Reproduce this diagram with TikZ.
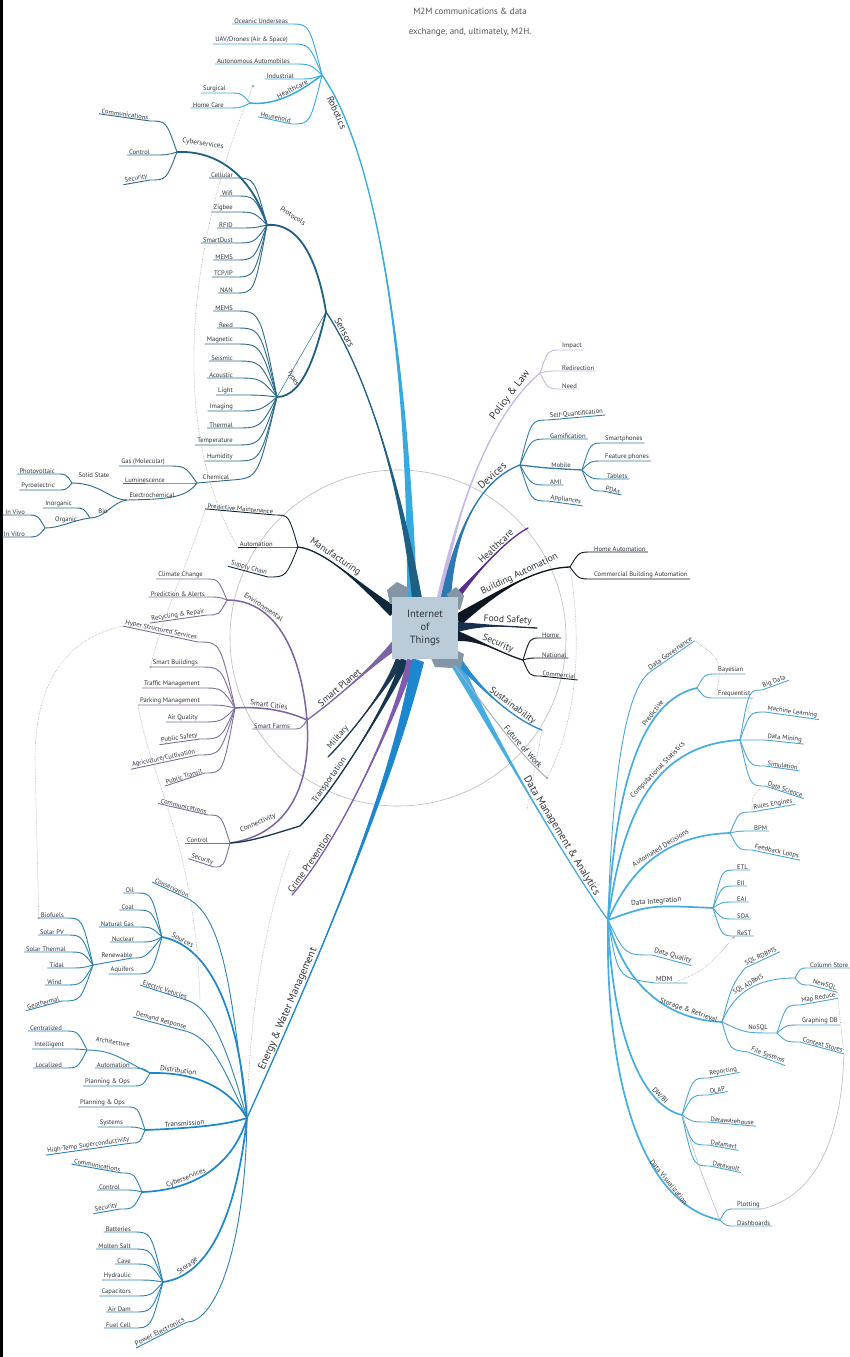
\documentclass[tikz,border=0pt]{standalone}
\usepackage{fontspec}
\setmainfont{PT Sans}
\usetikzlibrary{calc}
\definecolor{txt}{HTML}{2E3338}
\definecolor{robc}{HTML}{36A9E1}
\definecolor{senc}{HTML}{1F5F82}
\definecolor{senl}{HTML}{2B6B8C}
\definecolor{manc}{HTML}{10263A}
\definecolor{envc}{HTML}{7C63A6}
\definecolor{envl}{HTML}{7E6E9C}
\definecolor{milc}{HTML}{1B3A52}
\definecolor{trac}{HTML}{163650}
\definecolor{crmc}{HTML}{7D5CB0}
\definecolor{enec}{HTML}{1C87CE}
\definecolor{enel}{HTML}{2A82B4}
\definecolor{datc}{HTML}{45ADE2}
\definecolor{datl}{HTML}{4AA6D4}
\definecolor{polc}{HTML}{C7B8E8}
\definecolor{devc}{HTML}{2C79B2}
\definecolor{devl}{HTML}{2F7FA8}
\definecolor{hltc}{HTML}{5A2C8C}
\definecolor{bldc}{HTML}{0D1620}
\definecolor{fooc}{HTML}{16304E}
\definecolor{secc}{HTML}{111D2D}
\definecolor{susc}{HTML}{2B8CCD}
\definecolor{futc}{HTML}{A2AEB8}
\definecolor{ring}{HTML}{B4BCC4}
\definecolor{boxc}{HTML}{B9CCD8}
\definecolor{tabc}{HTML}{8496A6}

\tikzset{
 leaf/.style={font=\fontsize{6.6}{8}\selectfont,text=txt,inner xsep=2pt,inner ysep=0.5pt},
 blab/.style={font=\fontsize{7.2}{9}\selectfont,text=txt,inner sep=1pt},
 mlab/.style={font=\fontsize{9.5}{11}\selectfont,text=txt,inner sep=1.2pt},
 mid/.style={font=\fontsize{8.5}{10}\selectfont},
 big/.style={font=\fontsize{10.5}{12}\selectfont},
 rl/.style={draw=robc,line width=0.9pt},
 rb/.style={draw=robc,line width=1.5pt},
 sl/.style={draw=senl,line width=0.9pt},
 sb/.style={draw=senc,line width=1.8pt},
 ml/.style={draw=manc,line width=0.9pt},
 el/.style={draw=envl,line width=0.9pt},
 eb/.style={draw=envc,line width=1.5pt},
 nl/.style={draw=enel,line width=0.9pt},
 nb/.style={draw=enec,line width=1.7pt},
 dl/.style={draw=datl,line width=0.9pt},
 db/.style={draw=datc,line width=1.7pt},
 pl/.style={draw=polc,line width=0.9pt},
 vl/.style={draw=devl,line width=0.9pt},
 bl/.style={draw=bldc,line width=0.9pt},
 xref/.style={draw=gray!65,densely dotted,line width=0.6pt},
 faint/.style={draw=ring,line width=0.6pt},
 onpath/.style={sloped,above,pos=#1},
}

% leaf to the left of its hub: text sits on the underline that ends at the curve
\newcommand\lfL[6][0]{%
  \node[leaf,rotate=#1,anchor=south east] (#4) at #5 {#6};
  \draw[#2] (#3) .. controls ($(#3 |- #4.south east)!0.4!(#4.south east)$) .. (#4.south east) -- (#4.south west);}
% leaf to the right of its hub
\newcommand\lfR[6][0]{%
  \node[leaf,rotate=#1,anchor=south west] (#4) at #5 {#6};
  \draw[#2] (#3) .. controls ($(#3 |- #4.south west)!0.4!(#4.south west)$) .. (#4.south west) -- (#4.south east);}
% tapering main branch with its label:
% [label options]{colour}{start}{half-width}{control 1}{control 2}{end}{label name}{label text}
\newcommand\taper[9][]{%
  \fill[#2] ($#3+#4$) .. controls #5 and #6 .. #7 .. controls #6 and #5 .. ($#3-#4$) -- cycle;
  \draw[#2,line width=1.3pt,line cap=round] #3 .. controls #5 and #6 .. #7
     node[mlab,#1] (#8) {#9};}

\begin{document}
\begin{tikzpicture}[x=1pt,y=-1pt]
\useasboundingbox (0,0) rectangle (850,1357);
\fill[white] (0,0) rectangle (850,1357);
\fill[black] (0,0) rectangle (2.5,1357);

\node[font=\fontsize{9}{20}\selectfont,text=gray!65!black,align=center] (m2m) at (470,22)
  {M2M communications \& data\\exchange, and, ultimately, M2H.};

% ---------- hubs ----------
\coordinate (c) at (425,628);
\coordinate (rob) at (322,75);   \coordinate (rhc) at (250,103);
\coordinate (sen) at (326,312);  \coordinate (pro) at (267,225);
\coordinate (cyb) at (177,152);  \coordinate (typ) at (277,397);
\coordinate (chm) at (197,483);  \coordinate (ecm) at (127,500);
\coordinate (sst) at (72,483);   \coordinate (bio) at (90,518);
\coordinate (org) at (45,528);
\coordinate (man) at (298,547);
\coordinate (spl) at (307,720);  \coordinate (env) at (227,600);
\coordinate (scy) at (235,708);  \coordinate (cnv) at (230,843);
\coordinate (mil) at (328,757);  \coordinate (trn) at (300,826);
\coordinate (crm) at (292,895);
\coordinate (ene) at (247,1118); \coordinate (src) at (162,937);
\coordinate (rnw) at (93,965);   \coordinate (dis) at (150,1073);
\coordinate (arh) at (87,1050);  \coordinate (trm) at (145,1130);
\coordinate (cy2) at (142,1192); \coordinate (sto) at (163,1282);
\coordinate (dmh) at (608,920);  \coordinate (prd) at (697,688);
\coordinate (cst) at (740,740);  \coordinate (aud) at (730,833);
\coordinate (din) at (713,908);  \coordinate (str) at (722,1022);
\coordinate (sqa) at (795,978);  \coordinate (nsq) at (777,1033);
\coordinate (dwb) at (682,1115); \coordinate (dvz) at (720,1220);
\coordinate (pol) at (540,373);  \coordinate (dev) at (520,465);
\coordinate (mob) at (582,470);  \coordinate (hlt) at (528,528);
\coordinate (bld) at (570,567);  \coordinate (foo) at (537,628);
\coordinate (sec) at (523,660);  \coordinate (sus) at (542,730);
\coordinate (fut) at (547,778);

% ---------- ring round the centre ----------
\draw[faint] (398,638) circle[radius=168pt];

% ---------- Robotics ----------
\lfL{rl}{rob}{r1}{(290,24)}{Oceanic Underseas}
\lfL{rl}{rob}{r2}{(290,44)}{UAV/Drones (Air \& Space)}
\lfL{rl}{rob}{r3}{(292,64)}{Autonomous Automobiles}
\lfL{rl}{rob}{r4}{(296,79)}{Industrial}
\draw[rb] (rob) .. controls (300,92) and (275,106) .. (rhc)
   node[blab,onpath=0.4] (rhl) {Healthcare};
\lfL{rl}{rhc}{r5}{(228,93)}{Surgical}
\lfL{rl}{rhc}{r6}{(226,108)}{Home Care}
\lfL[-12]{rl}{rob}{r7}{(292,124)}{Household}

% ---------- Sensors ----------
\draw[sb] (pro) .. controls (300,222) and (318,262) .. (sen);
\node[blab,rotate=-32] (prl) at (293,216) {Protocols};
\draw[sb] (cyb) .. controls (225,150) and (255,185) .. (pro);
\node[blab,rotate=-8] (cyl) at (203,144) {Cyberservices};
\lfL[-8]{sl}{cyb}{c1}{(150,121)}{Communications}
\lfL{sl}{cyb}{c2}{(152,155)}{Control}
\lfL[10]{sl}{cyb}{c3}{(150,180)}{Security}
\lfL{sl}{pro}{p1}{(235,178)}{Cellular}
\lfL{sl}{pro}{p2}{(235,196)}{Wifi}
\lfL{sl}{pro}{p3}{(235,212)}{Zigbee}
\lfL{sl}{pro}{p4}{(235,228)}{RFID}
\lfL{sl}{pro}{p5}{(235,243)}{SmartDust}
\lfL{sl}{pro}{p6}{(235,260)}{MEMS}
\lfL{sl}{pro}{p7}{(235,277)}{TCP/IP}
\lfL{sl}{pro}{p8}{(235,293)}{NAN}
\draw[sb] (typ) .. controls (305,397) and (318,345) .. (sen);
\node[blab,rotate=-62] (tyl) at (293,378) {Types};
\draw[sl,line width=0.5pt] (typ) -- (sen);
\lfL{sl}{typ}{t01}{(235,311)}{MEMS}
\lfL{sl}{typ}{t02}{(235,328)}{Reed}
\lfL{sl}{typ}{t03}{(235,344)}{Magnetic}
\lfL{sl}{typ}{t04}{(235,361)}{Seismic}
\lfL{sl}{typ}{t05}{(235,378)}{Acoustic}
\lfL{sl}{typ}{t06}{(235,395)}{Light}
\lfL{sl}{typ}{t07}{(235,411)}{Imaging}
\lfL{sl}{typ}{t08}{(235,428)}{Thermal}
\lfL{sl}{typ}{t09}{(235,445)}{Temperature}
\lfL{sl}{typ}{t10}{(235,461)}{Humidity}
\draw[sl] (typ) .. controls (258,478) .. (232,480) -- (chm);
\node[leaf,anchor=south] (chl) at (216,480) {Chemical};
\lfL{sl}{chm}{g1}{(167,466)}{Gas (Molecular)}
\lfL{sl}{chm}{g2}{(167,483)}{Luminescence}
\draw[sl] (chm) .. controls (185,499) and (165,499) .. (ecm);
\node[leaf,anchor=south] (ecl) at (152,498) {Electrochemical};
\draw[sl] (ecm) .. controls (110,500) and (100,483) .. (sst);
\node[leaf] (ssl) at (94,475) {Solid State};
\draw[sl] (ecm) .. controls (112,502) and (105,518) .. (bio);
\node[leaf] (bil) at (103,511) {Bio};
\lfL{sl}{sst}{ss1}{(57,474)}{Photovoltaic}
\lfL{sl}{sst}{ss2}{(57,490)}{Pyroelectric}
\lfL{sl}{bio}{b1}{(74,508)}{Inorganic}
\draw[sl] (bio) .. controls (70,521) and (60,528) .. (org);
\node[leaf] (orl) at (66,520) {Organic};
\lfL{sl}{org}{o1}{(27,515)}{In Vivo}
\lfL{sl}{org}{o2}{(27,537)}{In Vitro}

% ---------- Manufacturing ----------
\lfL[-5]{ml}{man}{m1}{(275,515)}{Predictive Maintenance}
\lfL{ml}{man}{m2}{(275,547)}{Automation}
\lfL[-15]{ml}{man}{m3}{(268,577)}{Supply Chain}

% ---------- Smart Planet ----------
\draw[eb] (env) .. controls (280,600) and (302,660) .. (spl)
   node[blab,onpath=0.25] (envl) {Environmental};
\lfL{el}{env}{e1}{(205,579)}{Climate Change}
\lfL{el}{env}{e2}{(207,597)}{Prediction \& Alerts}
\lfL[8]{el}{env}{e3}{(207,615)}{Recycling \& Repair}
\draw[eb] (scy) .. controls (265,706) and (290,712) .. (spl)
   node[blab,onpath=0.4] (scl) {Smart Cities};
\lfL{el}{spl}{sfm}{(292,729)}{Smart Farms}
\lfL[-12]{el}{scy}{h1}{(198,642)}{Hyper Structured Services}
\lfL{el}{scy}{h2}{(200,667)}{Smart Buildings}
\lfL{el}{scy}{h3}{(202,688)}{Traffic Management}
\lfL{el}{scy}{h4}{(202,705)}{Parking Management}
\lfL{el}{scy}{h5}{(200,722)}{Air Quality}
\lfL[8]{el}{scy}{h6}{(200,739)}{Public Safety}
\lfL[12]{el}{scy}{h7}{(198,755)}{Agriculture/Cultivation}
\lfL[18]{el}{scy}{h8}{(205,773)}{Public Transit}
\draw[eb] (spl) .. controls (312,790) and (285,835) .. (cnv);
\draw[trac,line width=1.3pt] (cnv) .. controls (250,842) and (270,835) .. (trn);
\node[blab,rotate=24] (cnvl) at (258,823) {Connectivity};
\lfL[-13]{el}{cnv}{k1}{(208,815)}{Communications}
\lfL{el}{cnv}{k2}{(210,843)}{Control}
\lfL[-18]{el}{cnv}{k3}{(214,867)}{Security}

% ---------- Energy & Water Management ----------
\node[leaf,rotate=-25,anchor=south west] (cons) at (152,882) {Conservation};
\draw[nl] (ene) .. controls (232,1000) and (225,920) .. (cons.south east) -- (cons.south west);
\draw[nb] (src) .. controls (205,945) and (238,1000) .. (ene)
   node[blab,onpath=0.15] (srcl) {Sources};
\lfL{nl}{src}{s1}{(136,893)}{Oil}
\lfL{nl}{src}{s2}{(136,910)}{Coal}
\lfL{nl}{src}{s3}{(136,927)}{Natural Gas}
\lfL{nl}{src}{s4}{(136,942)}{Nuclear}
\draw[nl] (src) .. controls (145,958) .. (132,958) -- (rnw);
\node[leaf,anchor=south] (rnl) at (117,958) {Renewable};
\lfL{nl}{src}{s6}{(136,974)}{Aquifers}
\lfL{nl}{rnw}{w1}{(66,918)}{Biofuels}
\lfL{nl}{rnw}{w2}{(66,935)}{Solar PV}
\lfL{nl}{rnw}{w3}{(68,952)}{Solar Thermal}
\lfL{nl}{rnw}{w4}{(66,968)}{Tidal}
\lfL{nl}{rnw}{w5}{(64,985)}{Wind}
\lfL[15]{nl}{rnw}{w6}{(62,1001)}{Geothermal}
\node[leaf,rotate=-18,anchor=south west] (ev) at (140,985) {Electric Vehicles};
\draw[nl] (ene) .. controls (230,1060) and (215,1010) .. (ev.south east) -- (ev.south west);
\node[leaf,rotate=-15,anchor=south west] (dr) at (133,1017) {Demand Response};
\draw[nl] (ene) .. controls (228,1080) and (215,1040) .. (dr.south east) -- (dr.south west);
\draw[nb] (dis) .. controls (200,1072) and (230,1090) .. (ene)
   node[blab,onpath=0.2] (dil) {Distribution};
\draw[nl] (dis) .. controls (125,1062) and (115,1050) .. (arh);
\node[leaf,rotate=-10] (arl) at (113,1042) {Architecture};
\lfL{nl}{arh}{a1}{(64,1031)}{Centralized}
\lfL{nl}{arh}{a2}{(66,1049)}{Intelligent}
\lfL{nl}{arh}{a3}{(64,1068)}{Localized}
\lfL{nl}{dis}{d2}{(132,1068)}{Automation}
\lfL{nl}{dis}{d3}{(132,1086)}{Planning \& Ops}
\draw[nb] (trm) .. controls (195,1128) and (225,1125) .. (ene)
   node[blab,onpath=0.3] (trl) {Transmission};
\lfL{nl}{trm}{t1}{(127,1107)}{Planning \& Ops}
\lfL{nl}{trm}{t2}{(125,1127)}{Systems}
\lfL[8]{nl}{trm}{t3}{(132,1143)}{High-Temp Superconductivity}
\draw[nb] (cy2) .. controls (200,1190) and (235,1160) .. (ene)
   node[blab,onpath=0.3] (c2l) {Cyberservices};
\lfL[-10]{nl}{cy2}{y1}{(122,1173)}{Communications}
\lfL{nl}{cy2}{y2}{(122,1190)}{Control}
\lfL[10]{nl}{cy2}{y3}{(120,1209)}{Security}
\draw[nb] (sto) .. controls (215,1275) and (238,1200) .. (ene)
   node[blab,onpath=0.2] (stl) {Storage};
\lfL{nl}{sto}{st1}{(133,1232)}{Batteries}
\lfL{nl}{sto}{st2}{(133,1249)}{Molten Salt}
\lfL{nl}{sto}{st3}{(133,1264)}{Cave}
\lfL{nl}{sto}{st4}{(133,1280)}{Hydraulic}
\lfL{nl}{sto}{st5}{(133,1296)}{Capacitors}
\lfL{nl}{sto}{st6}{(133,1312)}{Air Dam}
\lfL{nl}{sto}{st7}{(133,1328)}{Fuel Cell}
\node[blab,rotate=27,anchor=south west] (pe) at (136,1348) {Power Electronics};
\draw[nl] (ene) .. controls (245,1250) and (215,1322) .. (pe.south east) -- (pe.south west);

% ---------- Data Management & Analytics ----------
\node[blab,rotate=35,anchor=south west] (dg) at (650,672) {Data Governance};
\draw[dl] (dmh) .. controls (612,780) and (625,690) .. (dg.south west) -- (dg.south east);
\draw[db] (dmh) .. controls (615,790) and (640,700) .. (prd)
   node[blab,onpath=0.72] (prl2) {Predictive};
\lfR{dl}{prd}{q1}{(716,674)}{Bayesian}
\lfR{dl}{prd}{q2}{(716,698)}{Frequentist}
\draw[db] (dmh) .. controls (622,820) and (650,745) .. (cst)
   node[blab,onpath=0.62] (csl) {Computational Statistics};
\lfR[20]{dl}{cst}{u1}{(762,690)}{Big Data}
\lfR[-8]{dl}{cst}{u2}{(765,712)}{Machine Learning}
\lfR[-6]{dl}{cst}{u3}{(765,740)}{Data Mining}
\lfR[-8]{dl}{cst}{u4}{(765,766)}{Simulation}
\lfR[-18]{dl}{cst}{u5}{(765,786)}{Data Science}
\draw[db] (dmh) .. controls (630,870) and (665,835) .. (aud)
   node[blab,onpath=0.58] (adl) {Automated Decisions};
\lfR[10]{dl}{aud}{v1}{(752,812)}{Rules Engines}
\lfR{dl}{aud}{v2}{(752,831)}{BPM}
\lfR[-12]{dl}{aud}{v3}{(752,850)}{Feedback Loops}
\draw[db] (dmh) .. controls (650,905) .. (din)
   node[blab,onpath=0.55] (dil2) {Data Integration};
\lfR{dl}{din}{i1}{(735,870)}{ETL}
\lfR{dl}{din}{i2}{(735,886)}{EII}
\lfR{dl}{din}{i3}{(735,902)}{EAI}
\lfR{dl}{din}{i4}{(735,919)}{SOA}
\lfR{dl}{din}{i5}{(735,936)}{ReST}
\node[blab,rotate=-15,anchor=south west] (dq) at (652,955) {Data Quality};
\draw[dl] (dmh) .. controls (625,955) .. (dq.south west) -- (dq.south east);
\node[blab,anchor=south west] (mdm) at (655,983) {MDM};
\draw[dl] (dmh) .. controls (618,978) .. (mdm.south west) -- ([xshift=14pt]mdm.south east);
\draw[db] (dmh) .. controls (625,990) and (672,1020) .. (str)
   node[blab,onpath=0.76] (srl) {Storage \& Retrieval};
\node[leaf,rotate=25,anchor=south west] (sq1) at (745,968) {SQL RDBMS};
\draw[dl] (str) .. controls (732,985) .. (sq1.south west) -- (sq1.south east);
\draw[dl] (str) .. controls (735,990) and (760,978) .. (sqa)
   node[leaf,onpath=0.5] (sql) {SQL ADBMS};
\lfR{dl}{sqa}{z1}{(808,968)}{Column Store}
\lfR[-15]{dl}{sqa}{z2}{(810,985)}{NewSQL}
\draw[dl] (str) .. controls (745,1033) .. (nsq);
\node[leaf,anchor=south] (nsl) at (758,1031) {NoSQL};
\lfR[10]{dl}{nsq}{n1}{(800,1005)}{Map Reduce}
\lfR{dl}{nsq}{n2}{(800,1025)}{Graphing DB}
\lfR[-15]{dl}{nsq}{n3}{(800,1042)}{Context Stores}
\node[leaf,rotate=-20,anchor=south west] (fs) at (748,1052) {File Systems};
\draw[dl] (str) .. controls (730,1050) .. (fs.south west) -- (fs.south east);
\draw[db] (dmh) .. controls (612,1030) and (640,1105) .. (dwb)
   node[blab,onpath=0.78] (dwl) {DW/BI};
\lfR[10]{dl}{dwb}{dw1}{(708,1078)}{Reporting}
\lfR[10]{dl}{dwb}{dw2}{(708,1095)}{OLAP}
\lfR[-5]{dl}{dwb}{dw3}{(708,1122)}{Datawarehouse}
\lfR[-10]{dl}{dwb}{dw4}{(708,1145)}{Datamart}
\lfR[-12]{dl}{dwb}{dw5}{(710,1166)}{Datavault}
\draw[db] (dmh) .. controls (605,1090) and (645,1205) .. (dvz)
   node[blab,onpath=0.72] (dvl) {Data Visualization};
\lfR{dl}{dvz}{vz1}{(735,1209)}{Plotting}
\lfR{dl}{dvz}{vz2}{(735,1226)}{Dashboards}

% ---------- upper right branches ----------
\lfR{pl}{pol}{pl1}{(560,350)}{Impact}
\lfR{pl}{pol}{pl2}{(560,371)}{Redirection}
\lfR{pl}{pol}{pl3}{(560,389)}{Need}
\lfR[5]{vl}{dev}{dv1}{(548,420)}{Self-Quantification}
\lfR{vl}{dev}{dv2}{(548,439)}{Gamification}
\draw[vl,line width=1.3pt] (dev) .. controls (545,468) .. (mob);
\node[leaf,anchor=south] (mol) at (561,468) {Mobile};
\lfR{vl}{mob}{mb1}{(603,443)}{Smartphones}
\lfR{vl}{mob}{mb2}{(603,461)}{Feature phones}
\lfR{vl}{mob}{mb3}{(605,479)}{Tablets}
\lfR[-12]{vl}{mob}{mb4}{(603,491)}{PDAs}
\lfR{vl}{dev}{dv4}{(548,485)}{AMI}
\lfR[-8]{vl}{dev}{dv5}{(548,501)}{Appliances}
\lfR{bl}{bld}{ba1}{(592,552)}{Home Automation}
\lfR{bl}{bld}{ba2}{(592,579)}{Commercial Building Automation}
\lfR{bl}{sec}{se1}{(540,638)}{Home}
\lfR{bl}{sec}{se2}{(540,658)}{National}
\lfR[-6]{bl}{sec}{se3}{(540,676)}{Commercial}

% ---------- cross links ----------
\coordinate (x1a) at (253,86);
\draw[xref] (x1a) .. controls (185,250) and (170,430) .. (m2.south west);
\fill[gray!70] (x1a) circle[radius=1.3pt];
\draw[xref] (m1.south west) .. controls (190,560) and (160,620) .. (h2.south west);
\fill[gray!70] (h2.south west) circle[radius=1.3pt];
\draw[xref] (h1.south west) .. controls (60,640) and (35,690) .. (35,760) -- (w1.south west);
\fill[gray!70] (w1.south west) circle[radius=1.3pt];
\coordinate (x4) at (200,1000);
\draw[xref] (h4.south west) .. controls (150,780) and (195,840) .. (x4);
\coordinate (x5) at (290,850);
\draw[xref] (x5) .. controls (270,910) and (250,990) .. (ene);
\draw[xref] (bld) .. controls (582,640) and (578,720) .. (fut);
\fill[gray!70] (fut) circle[radius=1.3pt];
\coordinate (x6) at (527,810);
\draw[xref] (sus) -- (x6);
\draw[xref] (dg.south east) .. controls (722,660) .. (q2.south west);
\draw[xref] (q2.south east) .. controls (745,715) .. (u2.south west);
\draw[xref] (u5.south west) .. controls (752,795) .. (v1.south west);
\draw[xref,-stealth] (mdm.south east) .. controls (705,970) .. (i5.south west);
\draw[xref] (n1.south east) -- (n3.south east);
\draw[faint] (n3.south east) .. controls (842,1130) and (820,1195) .. (vz1.south east);
\draw[faint] (dwb) .. controls (700,1170) .. (dvz);

% ---------- tapered main branches ----------
\coordinate (sRob) at (412,598); \coordinate (sSen) at (417,598);
\coordinate (sMan) at (394,612); \coordinate (sSpl) at (395,645);
\coordinate (sMil) at (400,660); \coordinate (sTrn) at (405,660);
\coordinate (sCrm) at (411,660); \coordinate (sEne) at (418,660);
\coordinate (sDat) at (452,655); \coordinate (sPol) at (440,598);
\coordinate (sDev) at (446,598); \coordinate (sHlt) at (452,602);
\coordinate (sBld) at (458,620); \coordinate (sFoo) at (458,627);
\coordinate (sSec) at (458,636); \coordinate (sSus) at (455,656);
\coordinate (sFut) at (452,662);

\taper[sloped,below,pos=0.87]{robc}{(sRob)}{(5,0)}{(408,350)}{(375,150)}{(rob)}{robl}{Robotics}
\taper[sloped,above,pos=0.88]{senc}{(sSen)}{(5,0)}{(400,480)}{(365,370)}{(sen)}{senl}{Sensors}
\taper[sloped,above,pos=0.62]{manc}{(sMan)}{(4,-4)}{(360,585)}{(325,550)}{(man)}{manl}{Manufacturing}
\taper[sloped,above,pos=0.6]{envc}{(sSpl)}{(3,3.5)}{(370,668)}{(335,700)}{(spl)}{spll}{Smart Planet}
\taper[sloped,above,pos=0.8,mid]{milc}{(sMil)}{(4,2)}{(385,690)}{(350,735)}{(mil)}{mill}{Military}
\taper[sloped,above,pos=0.71,mid]{trac}{(sTrn)}{(4,2)}{(390,700)}{(335,790)}{(trn)}{trnl}{Transportation}
\taper[sloped,above,pos=0.85]{crmc}{(sCrm)}{(4,2)}{(395,720)}{(340,840)}{(crm)}{crml}{Crime Prevention}
\taper[sloped,above,pos=0.74,big]{enec}{(sEne)}{(6,2)}{(390,800)}{(300,1000)}{(ene)}{enel}{Energy \& Water Management}
\taper[sloped,above,pos=0.66,big]{datc}{(sDat)}{(5,-4)}{(490,730)}{(565,860)}{(dmh)}{datl}{Data Management \& Analytics}
\taper[sloped,above,pos=0.84,big]{polc}{(sPol)}{(3,1)}{(455,520)}{(485,420)}{(pol)}{poll}{Policy \& Law}
\taper[sloped,above,pos=0.78,big]{devc}{(sDev)}{(5,1)}{(455,530)}{(480,480)}{(dev)}{devl}{Devices}
\taper[sloped,above,pos=0.62]{hltc}{(sHlt)}{(3,3)}{(475,575)}{(505,540)}{(hlt)}{hltl}{Healthcare}
\taper[sloped,above,pos=0.55]{bldc}{(sBld)}{(2,6)}{(500,590)}{(535,568)}{(bld)}{bldl}{Building Automation}
\taper[sloped,above,pos=0.6]{fooc}{(sFoo)}{(0,5)}{(485,624)}{(515,627)}{(foo)}{fool}{Food Safety}
\taper[sloped,above,pos=0.55]{secc}{(sSec)}{(0,5)}{(480,640)}{(505,655)}{(sec)}{secl}{Security}
\taper[sloped,above,pos=0.62]{susc}{(sSus)}{(3,-3)}{(480,690)}{(515,720)}{(sus)}{susl}{Sustainability}
\draw[futc,line width=1pt] (sFut) .. controls (480,700) and (515,750) .. (fut)
   node[mlab,mid,sloped,above,pos=0.72] (futl) {Future of Work};

% ---------- centre ----------
\fill[tabc] (387,590) -- (397,582) -- (409,588) -- (407,600) -- (390,604) -- cycle;
\fill[tabc] (447,594) -- (456,587) -- (464,596) -- (460,610) -- (450,606) -- cycle;
\fill[tabc] (452,648) -- (464,654) -- (461,668) -- (451,664) -- cycle;
\fill[tabc] (430,656) -- (455,656) -- (452,668) -- (435,667) -- cycle;
\node[fill=boxc,minimum width=66pt,minimum height=62pt,align=center,
      font=\fontsize{10.5}{13}\selectfont,text=txt] (iot) at (c) {Internet\\of\\Things};
\end{tikzpicture}
\end{document}
